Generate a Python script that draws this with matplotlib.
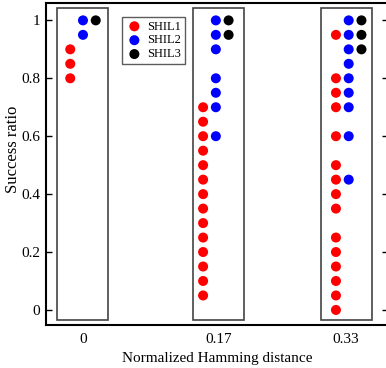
import matplotlib
matplotlib.use("Agg")
import matplotlib.pyplot as plt
from matplotlib.patches import Rectangle

plt.rcParams['font.family'] = ['Liberation Serif', 'DejaVu Serif']

# distances normalisees (graduations) et position reelle des groupes
distances = [0, 0.17, 0.33]
labels_x = ['0', '0.17', '0.33']
centres = [0, 1/6, 1/3]

# taux de succes par algorithme et par distance
shil1 = [
    [0.9, 0.85, 0.8],
    [0.7, 0.65, 0.6, 0.55, 0.5, 0.45, 0.4, 0.35, 0.3, 0.25, 0.2, 0.15, 0.1, 0.05],
    [0.95, 0.8, 0.75, 0.7, 0.6, 0.5, 0.45, 0.4, 0.35, 0.25, 0.2, 0.15, 0.1, 0.05, 0.0],
]
shil2 = [
    [1.0, 0.95],
    [1.0, 0.95, 0.9, 0.8, 0.75, 0.7, 0.6],
    [1.0, 0.95, 0.9, 0.85, 0.8, 0.75, 0.7, 0.6, 0.45],
]
shil3 = [
    [1.0],
    [1.0, 0.95],
    [1.0, 0.95, 0.9],
]

series = [('SHIL1', shil1, '#ff0000', -0.016),
          ('SHIL2', shil2, '#0000ff', 0.0),
          ('SHIL3', shil3, '#000000', 0.016)]

W, H = 386, 368
fig = plt.figure(figsize=(W/100, H/100), dpi=100)
ax = fig.add_axes([46/W, 43/H, (387.5-46)/W, 322/H])

# cadres autour de chaque groupe
for d in distances:
    ax.add_patch(Rectangle((d-0.032, -0.035), 0.064, 1.078, fill=False,
                           edgecolor='#444444', linewidth=1.2, zorder=1))

for nom, vals, coul, dx in series:
    for i, ys in enumerate(vals):
        ax.scatter([centres[i]+dx]*len(ys), ys, s=52, color=coul,
                   edgecolors='none', zorder=3, label=nom if i == 0 else None)

ax.set_xlim(-0.0464, 0.382)
ax.set_ylim(-0.052, 1.06)
ax.set_xticks(distances)
ax.set_xticklabels(labels_x)
ax.set_yticks([0, 0.2, 0.4, 0.6, 0.8, 1.0])
ax.set_yticklabels(['0', '0.2', '0.4', '0.6', '0.8', '1'])
ax.tick_params(axis='y', direction='in', left=True, right=True, length=4.5,
               width=1, labelsize=11, pad=4)
ax.tick_params(axis='x', length=0, labelsize=11, pad=6)
for s in ax.spines.values():
    s.set_linewidth(1.5)

ax.set_xlabel('Normalized Hamming distance', fontsize=11, labelpad=4)
ax.set_ylabel('Success ratio', fontsize=12)
ax.yaxis.set_label_coords(-0.074, 0.545)

leg = ax.legend(loc='upper left', bbox_to_anchor=(0.224, 0.957), fontsize=9,
                frameon=True, fancybox=False, edgecolor='#333333',
                handletextpad=0.4, borderpad=0.3, labelspacing=0.15,
                handlelength=1.3, borderaxespad=0, markerscale=1.0)
leg.get_frame().set_linewidth(1.0)

fig.savefig('out.png', dpi=100)
